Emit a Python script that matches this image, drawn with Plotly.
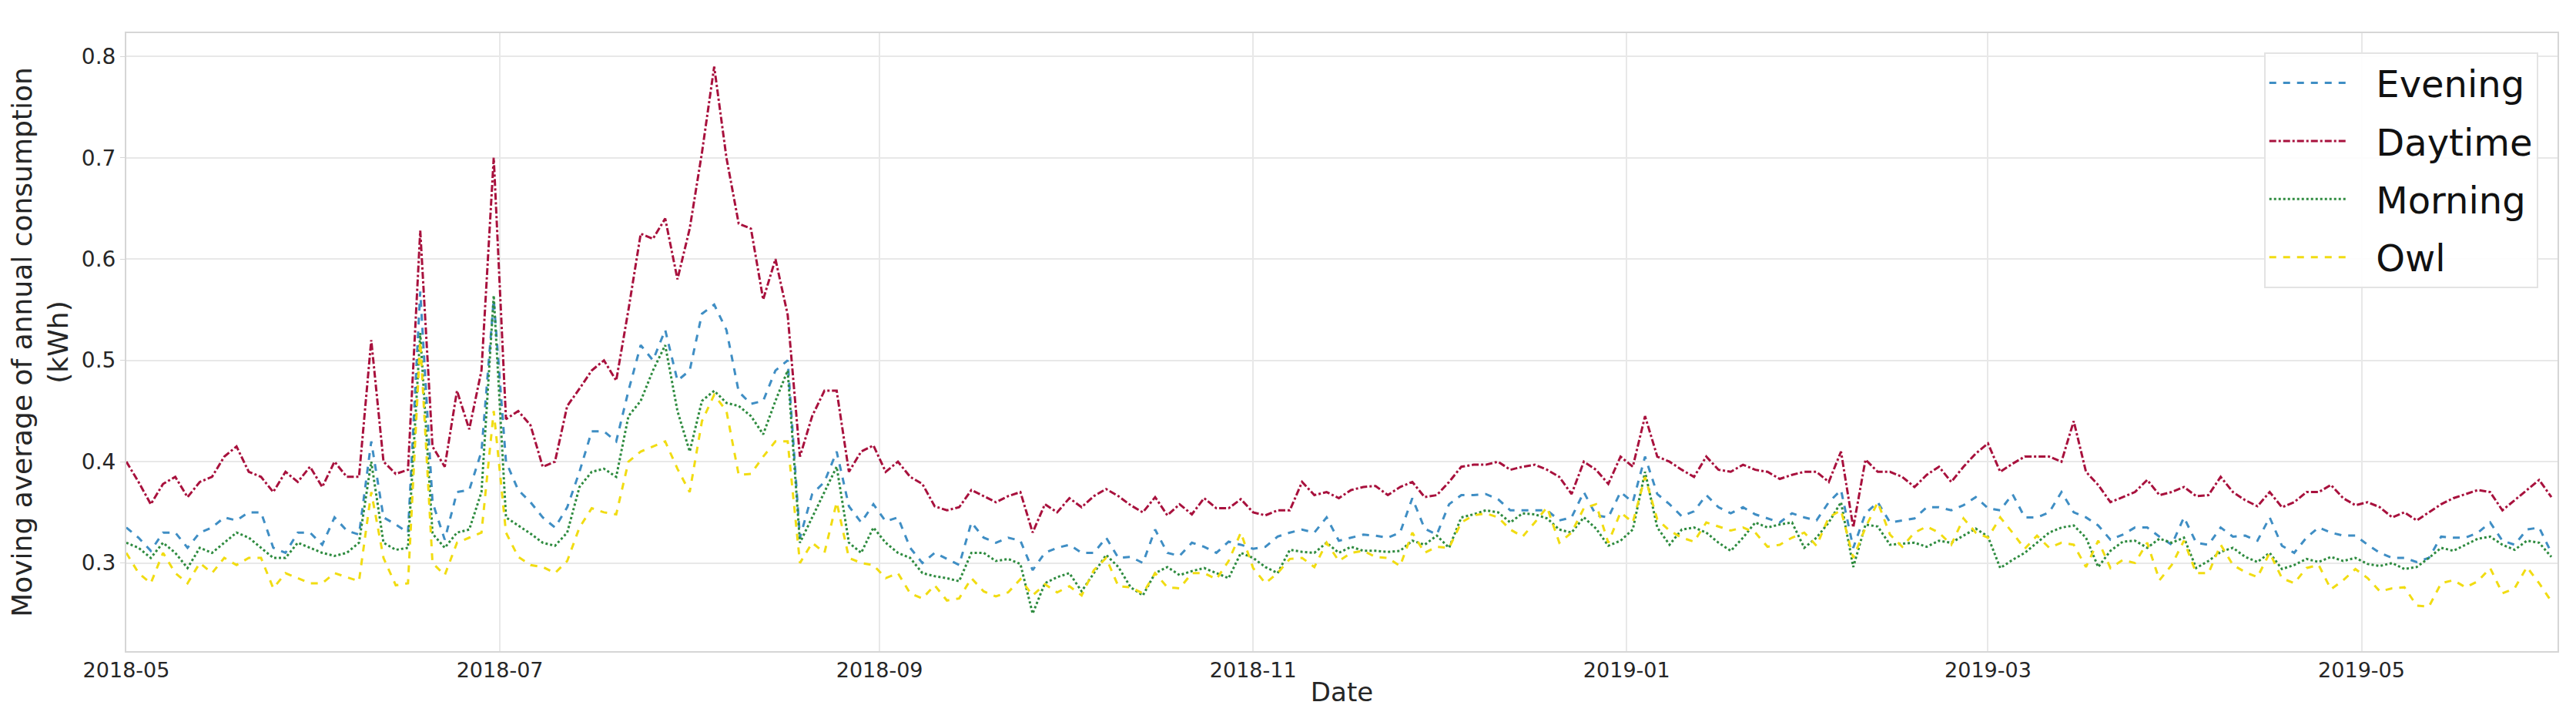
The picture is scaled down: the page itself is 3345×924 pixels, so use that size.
import pandas as pd
import plotly.graph_objects as go

# ---- data (2-day sampling from 2018-05-01) ----
start_date = "2018-05-01"
step_days = 2

daytime = [
    0.400, 0.380, 0.358, 0.378, 0.385, 0.365, 0.380, 0.385, 0.405, 0.415,
    0.390, 0.385, 0.370, 0.390, 0.380, 0.395, 0.375, 0.400, 0.385, 0.385,
    0.520, 0.400, 0.388, 0.392, 0.628, 0.415, 0.395, 0.470, 0.432, 0.490,
    0.700, 0.442, 0.450, 0.436, 0.395, 0.400, 0.455, 0.472, 0.490, 0.500,
    0.480, 0.550, 0.625, 0.620, 0.640, 0.580, 0.630, 0.705, 0.790, 0.700,
    0.635, 0.630, 0.560, 0.600, 0.545, 0.405, 0.445, 0.470, 0.470, 0.390,
    0.410, 0.416, 0.390, 0.400, 0.385, 0.378, 0.356, 0.352, 0.355, 0.372,
    0.366, 0.360, 0.366, 0.370, 0.330, 0.358, 0.350, 0.364, 0.355, 0.366,
    0.373, 0.366, 0.357, 0.350, 0.365, 0.347, 0.358, 0.348, 0.364, 0.354,
    0.354, 0.363, 0.350, 0.347, 0.352, 0.352, 0.380, 0.367, 0.370, 0.364,
    0.372, 0.375, 0.376, 0.367, 0.375, 0.380, 0.365, 0.367, 0.380, 0.395,
    0.397, 0.397, 0.400, 0.392, 0.395, 0.397, 0.392, 0.385, 0.368, 0.400,
    0.392, 0.378, 0.405, 0.395, 0.445, 0.405, 0.400, 0.392, 0.385, 0.405,
    0.392, 0.390, 0.397, 0.392, 0.390, 0.383, 0.387, 0.390, 0.390, 0.380,
    0.410, 0.335, 0.402, 0.390, 0.390, 0.385, 0.375, 0.387, 0.395, 0.380,
    0.395, 0.408, 0.418, 0.390, 0.398, 0.405, 0.405, 0.405, 0.400, 0.440,
    0.390, 0.377, 0.360, 0.365, 0.370, 0.382, 0.367, 0.370, 0.375, 0.366,
    0.367, 0.385, 0.370, 0.362, 0.356, 0.370, 0.355, 0.360, 0.370, 0.370,
    0.377, 0.364, 0.357, 0.360, 0.355, 0.345, 0.350, 0.342, 0.350, 0.358,
    0.364, 0.368, 0.372, 0.370, 0.352, 0.362, 0.372, 0.382, 0.365,
]

evening = [
    0.335, 0.325, 0.312, 0.330, 0.330, 0.315, 0.330, 0.335, 0.345, 0.342,
    0.350, 0.350, 0.315, 0.310, 0.330, 0.330, 0.318, 0.345, 0.332, 0.328,
    0.420, 0.345, 0.338, 0.330, 0.568, 0.360, 0.323, 0.370, 0.372, 0.410,
    0.560, 0.400, 0.372, 0.360, 0.345, 0.335, 0.355, 0.390, 0.430, 0.430,
    0.420, 0.470, 0.515, 0.500, 0.530, 0.480, 0.490, 0.546, 0.555, 0.530,
    0.469, 0.457, 0.460, 0.490, 0.500, 0.325, 0.368, 0.380, 0.410, 0.356,
    0.340, 0.358, 0.341, 0.345, 0.315, 0.300, 0.310, 0.304, 0.298, 0.340,
    0.325, 0.320, 0.325, 0.322, 0.293, 0.310, 0.315, 0.318, 0.310, 0.310,
    0.325, 0.305, 0.306, 0.300, 0.333, 0.310, 0.307, 0.320, 0.316, 0.310,
    0.321, 0.318, 0.314, 0.316, 0.326, 0.330, 0.333, 0.330, 0.345, 0.322,
    0.325, 0.328, 0.327, 0.325, 0.330, 0.364, 0.334, 0.328, 0.358, 0.367,
    0.367, 0.368, 0.363, 0.352, 0.352, 0.352, 0.352, 0.342, 0.345, 0.370,
    0.347, 0.345, 0.370, 0.360, 0.405, 0.368, 0.358, 0.346, 0.351, 0.367,
    0.355, 0.349, 0.355, 0.348, 0.344, 0.340, 0.349, 0.345, 0.342, 0.360,
    0.372, 0.315, 0.349, 0.360, 0.340, 0.342, 0.344, 0.355, 0.355, 0.352,
    0.357, 0.365, 0.354, 0.352, 0.368, 0.345, 0.345, 0.350, 0.370, 0.350,
    0.345, 0.337, 0.323, 0.328, 0.335, 0.335, 0.326, 0.318, 0.345, 0.320,
    0.318, 0.335, 0.326, 0.327, 0.322, 0.345, 0.317, 0.310, 0.325, 0.335,
    0.330, 0.327, 0.327, 0.318, 0.310, 0.305, 0.305, 0.301, 0.305, 0.326,
    0.325, 0.325, 0.330, 0.340, 0.322, 0.318, 0.333, 0.335, 0.310,
]

morning = [
    0.320, 0.315, 0.305, 0.320, 0.310, 0.295, 0.315, 0.310, 0.320, 0.330,
    0.325, 0.315, 0.305, 0.305, 0.320, 0.315, 0.310, 0.307, 0.310, 0.320,
    0.400, 0.320, 0.313, 0.315, 0.527, 0.329, 0.315, 0.330, 0.333, 0.370,
    0.564, 0.345, 0.337, 0.329, 0.320, 0.317, 0.330, 0.375, 0.390, 0.393,
    0.385, 0.445, 0.460, 0.490, 0.515, 0.450, 0.410, 0.460, 0.470, 0.458,
    0.455, 0.445, 0.427, 0.460, 0.490, 0.320, 0.345, 0.370, 0.395, 0.320,
    0.310, 0.335, 0.320, 0.310, 0.305, 0.290, 0.287, 0.285, 0.282, 0.310,
    0.310, 0.302, 0.304, 0.299, 0.250, 0.280, 0.286, 0.290, 0.272, 0.290,
    0.308, 0.296, 0.276, 0.268, 0.290, 0.296, 0.288, 0.292, 0.295, 0.290,
    0.285, 0.310, 0.305, 0.296, 0.290, 0.313, 0.311, 0.310, 0.320, 0.310,
    0.316, 0.312, 0.312, 0.311, 0.312, 0.322, 0.318, 0.327, 0.315, 0.345,
    0.348, 0.352, 0.350, 0.340, 0.349, 0.348, 0.344, 0.333, 0.330, 0.345,
    0.334, 0.317, 0.322, 0.333, 0.390, 0.335, 0.318, 0.333, 0.335, 0.330,
    0.320, 0.312, 0.325, 0.340, 0.335, 0.338, 0.340, 0.315, 0.325, 0.340,
    0.360, 0.296, 0.338, 0.336, 0.318, 0.319, 0.320, 0.316, 0.322, 0.320,
    0.327, 0.334, 0.326, 0.295, 0.303, 0.310, 0.320, 0.330, 0.335, 0.337,
    0.325, 0.296, 0.312, 0.321, 0.322, 0.315, 0.324, 0.320, 0.325, 0.295,
    0.302, 0.311, 0.315, 0.306, 0.301, 0.310, 0.294, 0.298, 0.304, 0.301,
    0.306, 0.302, 0.305, 0.299, 0.297, 0.300, 0.294, 0.296, 0.305, 0.315,
    0.312, 0.318, 0.324, 0.326, 0.318, 0.313, 0.322, 0.320, 0.306,
]

owl = [
    0.310, 0.290, 0.280, 0.310, 0.290, 0.280, 0.300, 0.290, 0.305, 0.298,
    0.305, 0.305, 0.275, 0.290, 0.285, 0.280, 0.280, 0.290, 0.286, 0.282,
    0.370, 0.305, 0.278, 0.280, 0.519, 0.300, 0.288, 0.320, 0.325, 0.330,
    0.450, 0.330, 0.306, 0.298, 0.296, 0.290, 0.302, 0.335, 0.354, 0.350,
    0.348, 0.400, 0.410, 0.415, 0.420, 0.393, 0.370, 0.440, 0.466, 0.450,
    0.387, 0.388, 0.405, 0.420, 0.420, 0.300, 0.320, 0.310, 0.360, 0.305,
    0.300, 0.298, 0.285, 0.290, 0.270, 0.265, 0.278, 0.263, 0.265, 0.285,
    0.272, 0.267, 0.271, 0.284, 0.268, 0.279, 0.271, 0.277, 0.268, 0.293,
    0.305, 0.277, 0.276, 0.270, 0.290, 0.276, 0.275, 0.290, 0.290, 0.284,
    0.302, 0.330, 0.295, 0.280, 0.290, 0.304, 0.305, 0.296, 0.320, 0.302,
    0.310, 0.312, 0.306, 0.305, 0.297, 0.330, 0.310, 0.316, 0.315, 0.340,
    0.347, 0.349, 0.345, 0.333, 0.326, 0.340, 0.355, 0.320, 0.330, 0.354,
    0.358, 0.320, 0.350, 0.340, 0.385, 0.343, 0.332, 0.325, 0.321, 0.340,
    0.336, 0.332, 0.335, 0.330, 0.316, 0.318, 0.325, 0.330, 0.317, 0.345,
    0.352, 0.305, 0.335, 0.360, 0.328, 0.316, 0.330, 0.336, 0.330, 0.318,
    0.344, 0.330, 0.325, 0.345, 0.330, 0.314, 0.327, 0.315, 0.320, 0.318,
    0.296, 0.322, 0.295, 0.303, 0.300, 0.320, 0.283, 0.298, 0.322, 0.290,
    0.290, 0.318, 0.298, 0.291, 0.286, 0.310, 0.285, 0.280, 0.295, 0.298,
    0.274, 0.283, 0.294, 0.285, 0.272, 0.275, 0.276, 0.258, 0.257, 0.280,
    0.283, 0.276, 0.282, 0.295, 0.270, 0.275, 0.296, 0.280, 0.262,
]

series_names = ["Evening", "Daytime", "Morning", "Owl"]
series_values = [evening, daytime, morning, owl]
series_colors = ["#3f8ec4", "#a8113d", "#2e8b3f", "#f1dc12"]
series_dash = ["dash", "dashdot", "dot", "dash"]

y_ticks = [0.3, 0.4, 0.5, 0.6, 0.7, 0.8]
x_ticks = ["2018-05-01", "2018-07-01", "2018-09-01", "2018-11-01",
           "2019-01-01", "2019-03-01", "2019-05-01"]
x_tick_labels = ["2018-05", "2018-07", "2018-09", "2018-11",
                 "2019-01", "2019-03", "2019-05"]

dates = pd.date_range(start_date, periods=len(daytime), freq=f"{step_days}D")

LEGEND_PAD = "\u2002\u2009"  # visual gap between legend line and label

fig = go.Figure()
for name, vals, col, dash in zip(series_names, series_values, series_colors, series_dash):
    fig.add_trace(go.Scatter(
        x=dates, y=vals, mode="lines", name=LEGEND_PAD + name, legendgroup=name,
        line=dict(color=col, width=3, dash=dash),
    ))

font_family = "DejaVu Sans"
text_color = "#262626"
grid_color = "#e8e8e8"

fig.update_layout(
    width=3345, height=924,
    margin=dict(l=156, r=32, t=35, b=87),
    paper_bgcolor="white", plot_bgcolor="white",
    font=dict(family=font_family, color=text_color, size=27),
    showlegend=True,
    legend=dict(
        x=0.992, y=0.969, xanchor="right", yanchor="top",
        bgcolor="rgba(255,255,255,0.9)", bordercolor="#e3e3e3", borderwidth=2,
        font=dict(size=48, family=font_family, color="#111111"),
        itemwidth=100, tracegroupgap=10,
    ),
    xaxis=dict(
        range=["2018-05-01", "2019-06-02"],
        tickmode="array", tickvals=x_ticks, ticktext=x_tick_labels,
        tickfont=dict(size=27),
        showgrid=True, gridcolor=grid_color, gridwidth=2,
        showline=True, linecolor="#d6d6d6", linewidth=2, mirror=True,
        zeroline=False, ticks="",
        title=dict(text="Date", font=dict(size=34), standoff=2),
    ),
    yaxis=dict(
        range=[0.213, 0.823],
        tickmode="array", tickvals=y_ticks, ticktext=[f"{v:.1f}" for v in y_ticks],
        tickfont=dict(size=28),
        showgrid=True, gridcolor=grid_color, gridwidth=2,
        showline=True, linecolor="#d6d6d6", linewidth=2, mirror=True,
        zeroline=False, ticks="outside", ticklen=6, tickcolor="#d6d6d6",
        title=dict(text="Moving average of annual consumption<br>(kWh)",
                   font=dict(size=36), standoff=8),
    ),
)

fig.write_html("out.html")
